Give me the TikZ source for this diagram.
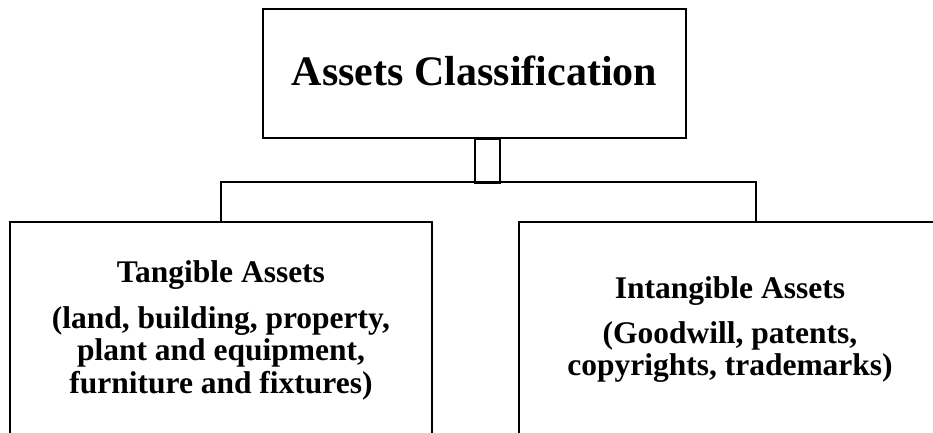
\documentclass[tikz,border=0pt]{standalone}
\usepackage{fontspec}
\setmainfont{Liberation Serif}
\begin{document}
\begin{tikzpicture}[x=1pt,y=-1pt,
  box/.style={draw=black,line width=2pt,inner sep=0pt,fill=white},
  conn/.style={draw=black,line width=2pt},
  heading/.style={font=\fontsize{42}{46}\selectfont\bfseries,anchor=base,inner sep=0pt},
  body/.style={font=\fontsize{31.5}{34}\selectfont\bfseries,anchor=base,inner sep=0pt}]
  % page area
  \clip (0,0) rectangle (933,432);
  \fill[white] (0,0) rectangle (933,432);

  % boxes
  \node[box,minimum width=423pt,minimum height=129pt] (title) at (474.5,73.5) {};
  \node[box,minimum width=422pt,minimum height=248pt] (tang) at (221,346) {};
  \node[box,minimum width=422pt,minimum height=248pt] (intang) at (730,346) {};

  % connectors
  \coordinate (stemL) at ([xshift=0.5pt]title.south);
  \coordinate (stemR) at ([xshift=25.5pt,yshift=-44pt]title.south);
  \draw[conn] (stemL) rectangle (stemR);
  \coordinate (busR) at (756,182);
  \draw[conn] (tang.north) -- (tang.north |- busR) -- (busR) -- (busR |- intang.north);

  % texts
  \node[heading] (tt) at (474.5,85) {Assets Classification};

  \node[body] (t1) at (221,282) {Tangible Assets};
  \node[body] (t2) at (221,328) {(land, building, property,};
  \node[body] (t3) at (221,360.5) {plant and equipment,};
  \node[body] (t4) at (221,393) {furniture and fixtures)};

  \node[body] (i1) at (730,298) {Intangible Assets};
  \node[body] (i2) at (730,343) {(Goodwill, patents,};
  \node[body] (i3) at (730,375.5) {copyrights, trademarks)};
\end{tikzpicture}
\end{document}
